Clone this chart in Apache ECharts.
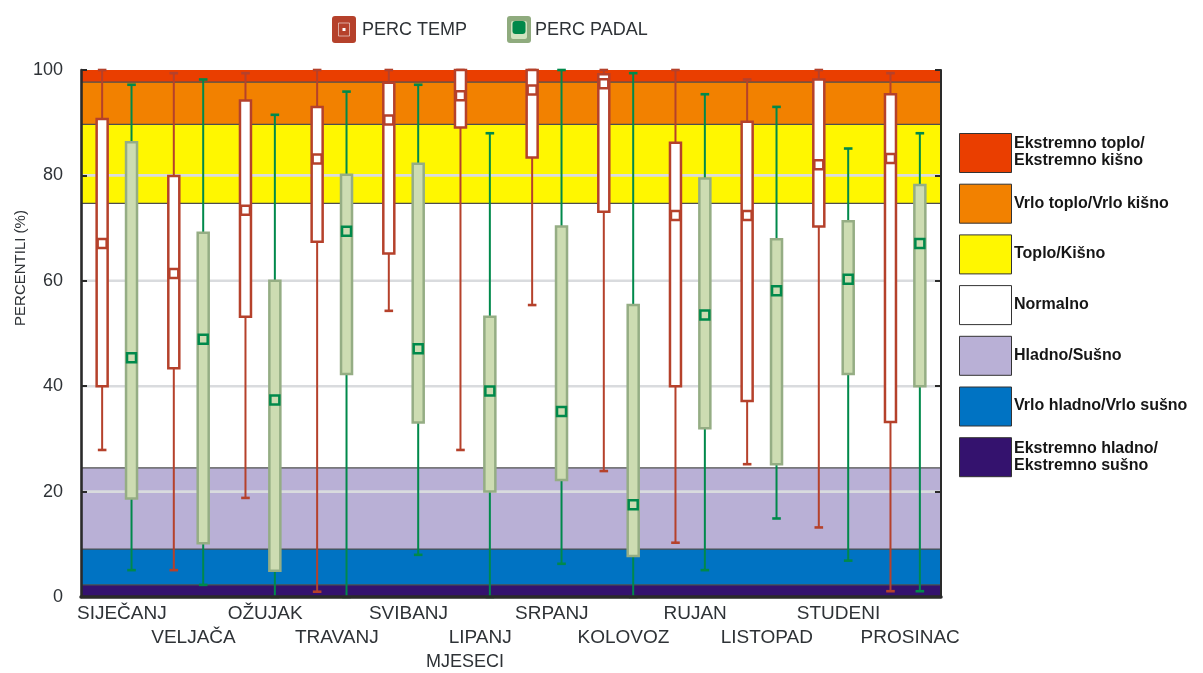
<!DOCTYPE html>
<html>
<head>
<meta charset="utf-8">
<title>Percentili temperature i padalina</title>
<script src="https://cdn.jsdelivr.net/npm/echarts@6/dist/echarts.min.js"></script>
<style>
  html, body { margin: 0; padding: 0; background: #ffffff; }
  #chart { width: 1203px; height: 673px; }
</style>
</head>
<body>
<div id="chart"></div>
<script>
// Months on the category axis
const months = ['SIJEČANJ', 'VELJAČA', 'OŽUJAK', 'TRAVANJ', 'SVIBANJ', 'LIPANJ',
  'SRPANJ', 'KOLOVOZ', 'RUJAN', 'LISTOPAD', 'STUDENI', 'PROSINAC'];

// Temperature percentiles: whisker min, lower quartile, median, upper quartile, whisker max
const tempMin = [27.9, 5.1, 18.8, 1.0, 54.3, 27.9, 55.4, 23.9, 10.3, 25.2, 13.2, 1.1];
const tempQ1  = [40.0, 43.4, 53.2, 67.4, 65.2, 89.1, 83.4, 73.1, 40.0, 37.2, 70.3, 33.2];
const tempMed = [67.1, 61.4, 73.4, 83.1, 90.5, 95.1, 96.2, 97.4, 72.4, 72.4, 82.0, 83.2];
const tempQ3  = [90.7, 79.9, 94.2, 93.0, 97.6, 100, 100, 99.2, 86.2, 90.2, 98.2, 95.4];
const tempMax = [100, 99.4, 99.4, 100, 100, 100, 100, 100, 100, 98.2, 100, 99.4];

// Precipitation percentiles
const padMin = [5.1, 2.3, 0, 0, 8.0, 0, 6.3, 0, 5.1, 14.9, 6.9, 1.1];
const padQ1  = [18.7, 10.2, 5.0, 42.3, 33.1, 20.0, 22.2, 7.8, 32.0, 25.2, 42.3, 40.0];
const padMed = [45.4, 48.9, 37.4, 69.4, 47.1, 39.1, 35.2, 17.5, 53.5, 58.1, 60.3, 67.1];
const padQ3  = [86.3, 69.1, 60.0, 80.1, 82.2, 53.2, 70.3, 55.4, 79.4, 67.9, 71.3, 78.2];
const padMax = [97.2, 98.2, 91.5, 95.9, 97.2, 88.0, 100, 99.4, 95.4, 93.0, 85.1, 88.0];

// Category bands (bottom to top)
const bandEdges  = [0, 2.3, 9.1, 24.5, 74.7, 89.7, 97.7, 100];
const bandColors = ['#34126e', '#0073c3', '#b9b0d6', '#ffffff', '#fff700', '#f28100', '#ea3e00'];
const bandNames  = ['Ekstremno hladno/\nEkstremno sušno', 'Vrlo hladno/Vrlo sušno', 'Hladno/Sušno',
  'Normalno', 'Toplo/Kišno', 'Vrlo toplo/Vrlo kišno', 'Ekstremno toplo/\nEkstremno kišno'];

// Value axis ticks and horizontal gridlines
const yTicks = [0, 20, 40, 60, 80, 100];
const gridValues = [20, 40, 60, 80];

const seriesNames = ['PERC TEMP', 'PERC PADAL'];
const xAxisName = 'MJESECI';
const yAxisName = 'PERCENTILI (%)';

const FONT = 'Liberation Sans, Arial, sans-serif';
const TEXT = '#2e3236';
const AXIS = '#2a2a2a';

const chart = echarts.init(document.getElementById('chart'), null, { renderer: 'canvas' });

function bandItem(params, api) {
  const cs = params.coordSys;
  const lo = api.value(1), hi = api.value(2);
  const yTop = api.coord([0, hi])[1];
  const yBot = api.coord([0, lo])[1];
  const children = [{
    type: 'rect',
    shape: { x: cs.x, y: yTop, width: cs.width, height: yBot - yTop },
    style: { fill: bandColors[api.value(3)] }
  }];
  if (lo > 0) {
    children.push({
      type: 'line',
      shape: { x1: cs.x, y1: yBot, x2: cs.x + cs.width, y2: yBot },
      style: { stroke: '#4e4e4e', lineWidth: 1.3 }
    });
  }
  return { type: 'group', children: children };
}

function gridItem(params, api) {
  const cs = params.coordSys;
  const y = api.coord([0, api.value(1)])[1];
  return {
    type: 'line',
    shape: { x1: cs.x, y1: y, x2: cs.x + cs.width, y2: y },
    style: { stroke: '#d9dbde', lineWidth: 2.6 }
  };
}

function boxRenderer(side, st) {
  return function (params, api) {
    const i = api.value(0);
    const bw = api.size([1, 0])[0];
    const cx = api.coord([i, 0])[0] + side * bw * 0.205;
    const y = v => api.coord([i, v])[1];
    const yMin = y(api.value(1)), yQ1 = y(api.value(2)), yMed = y(api.value(3));
    const yQ3 = y(api.value(4)), yMax = y(api.value(5));
    const half = 5.5, cap = 4.3, mh = 4.5;
    return {
      type: 'group',
      children: [
        { type: 'line', shape: { x1: cx, y1: yMin, x2: cx, y2: yMax },
          style: { stroke: st.whisker, lineWidth: 2 } },
        { type: 'line', shape: { x1: cx - cap, y1: yMax, x2: cx + cap, y2: yMax },
          style: { stroke: st.whisker, lineWidth: 2.6 } },
        { type: 'line', shape: { x1: cx - cap, y1: yMin, x2: cx + cap, y2: yMin },
          style: { stroke: st.whisker, lineWidth: 2.6 } },
        { type: 'rect', shape: { x: cx - half, y: yQ3, width: half * 2, height: yQ1 - yQ3 },
          style: { fill: st.fill, stroke: st.border, lineWidth: 2.5 } },
        { type: 'rect', shape: { x: cx - mh, y: yMed - mh, width: mh * 2, height: mh * 2 },
          style: { fill: st.fill, stroke: st.median, lineWidth: 2.5 } }
      ]
    };
  };
}

const tempStyle = { whisker: '#b5412b', border: '#b5412b', fill: '#ffffff', median: '#b5412b' };
const padStyle  = { whisker: '#00894b', border: '#95ad84', fill: '#cddcb2', median: '#00894b' };

const tempData = months.map((m, i) => [i, tempMin[i], tempQ1[i], tempMed[i], tempQ3[i], tempMax[i]]);
const padData  = months.map((m, i) => [i, padMin[i], padQ1[i], padMed[i], padQ3[i], padMax[i]]);
const bandData = bandColors.map((c, i) => [0, bandEdges[i], bandEdges[i + 1], i]);
const gridData = gridValues.map(v => [0, v]);

// Legend for the category bands, drawn top to bottom
const legendGraphics = [];
const legendOrder = bandNames.map((n, i) => i).reverse();
legendOrder.forEach((bi, k) => {
  const top = 133 + k * 50.7;
  legendGraphics.push({
    type: 'rect', left: 959, top: top,
    shape: { width: 52, height: 39 },
    style: { fill: bandColors[bi], stroke: '#333333', lineWidth: 1 }
  });
  legendGraphics.push({
    type: 'text', x: 1014, y: top + 19.5,
    style: {
      text: bandNames[bi], fill: '#161616', font: 'bold 16px ' + FONT,
      verticalAlign: 'middle', align: 'left', lineHeight: 17
    }
  });
});

// Series legend at the top
const topLegend = [
  { type: 'rect', shape: { x: 332, y: 16, width: 24, height: 27, r: 3 }, style: { fill: '#b5412b' } },
  { type: 'rect', shape: { x: 338.5, y: 23, width: 11, height: 13 }, style: { fill: null, stroke: 'rgba(255,255,255,0.55)', lineWidth: 1 } },
  { type: 'rect', shape: { x: 342.5, y: 28, width: 3, height: 3 }, style: { fill: '#ffffff' } },
  { type: 'text', x: 362, y: 30, style: { text: seriesNames[0], fill: TEXT, font: '18px ' + FONT, verticalAlign: 'middle' } },
  { type: 'rect', shape: { x: 507, y: 16, width: 24, height: 27, r: 3 }, style: { fill: '#8fab7e' } },
  { type: 'rect', shape: { x: 511, y: 21, width: 16, height: 18, r: 2 }, style: { fill: '#d2e2bf' } },
  { type: 'rect', shape: { x: 512.5, y: 21, width: 13, height: 13, r: 3 }, style: { fill: '#00884a' } },
  { type: 'text', x: 535, y: 30, style: { text: seriesNames[1], fill: TEXT, font: '18px ' + FONT, verticalAlign: 'middle' } }
];

const axisTitles = [
  { type: 'text', x: 465, y: 662, style: { text: xAxisName, fill: TEXT, font: '18px ' + FONT, align: 'center', verticalAlign: 'middle' } },
  { type: 'text', x: 21, y: 268, rotation: Math.PI / 2,
    style: { text: yAxisName, fill: TEXT, font: '15px ' + FONT, align: 'center', verticalAlign: 'middle' } }
];

const option = {
  backgroundColor: '#ffffff',
  animation: false,
  textStyle: { fontFamily: FONT },
  grid: { left: 81, right: 262, top: 70, bottom: 76 },
  xAxis: [
    {
      type: 'category', data: months, position: 'bottom', z: 10,
      axisLine: { lineStyle: { color: AXIS, width: 2.2 } },
      axisTick: { inside: true, alignWithLabel: true, length: 6, lineStyle: { color: AXIS, width: 2 } },
      axisLabel: {
        interval: 0, color: TEXT, fontSize: 19, margin: 5, lineHeight: 24, fontFamily: FONT,
        padding: [0, 0, 0, 10],
        formatter: (v, i) => (i % 2 ? '\n' + v : v)
      },
      splitLine: { show: false }
    },
    {
      type: 'category', data: months, position: 'top', z: 10,
      axisLine: { lineStyle: { color: AXIS, width: 3.5 } },
      axisTick: { inside: true, alignWithLabel: true, length: 5, lineStyle: { color: AXIS, width: 2 } },
      axisLabel: { show: false },
      splitLine: { show: false }
    }
  ],
  yAxis: [
    {
      type: 'value', min: yTicks[0], max: yTicks[yTicks.length - 1], interval: 20, z: 10,
      axisLine: { show: true, lineStyle: { color: AXIS, width: 2.6 } },
      axisTick: { show: true, inside: true, length: 6, lineStyle: { color: AXIS, width: 2 } },
      axisLabel: { color: TEXT, fontSize: 18, margin: 18, fontFamily: FONT },
      splitLine: { show: false }
    },
    {
      type: 'value', position: 'right', min: yTicks[0], max: yTicks[yTicks.length - 1], interval: 20, z: 10,
      axisLine: { show: true, lineStyle: { color: AXIS, width: 2 } },
      axisTick: { show: true, inside: true, length: 6, lineStyle: { color: AXIS, width: 2 } },
      axisLabel: { show: false },
      splitLine: { show: false }
    }
  ],
  series: [
    { type: 'custom', name: 'bands', z: 1, silent: true, renderItem: bandItem,
      encode: { x: 0, y: [1, 2] }, data: bandData },
    { type: 'custom', name: 'grid', z: 2, silent: true, renderItem: gridItem,
      encode: { x: 0, y: 1 }, data: gridData },
    { type: 'custom', name: seriesNames[0], z: 4, renderItem: boxRenderer(-1, tempStyle),
      encode: { x: 0, y: [1, 2, 3, 4, 5] }, data: tempData },
    { type: 'custom', name: seriesNames[1], z: 4, renderItem: boxRenderer(1, padStyle),
      encode: { x: 0, y: [1, 2, 3, 4, 5] }, data: padData }
  ],
  graphic: [].concat(topLegend, legendGraphics, axisTitles)
};

chart.setOption(option);
</script>
</body>
</html>
